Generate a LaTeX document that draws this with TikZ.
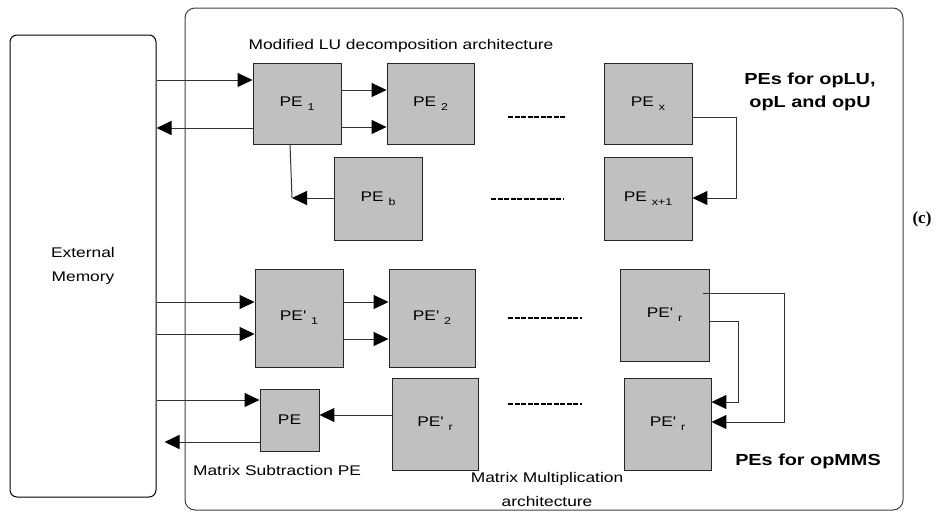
\documentclass[tikz,border=0pt]{standalone}
\usepackage{fontspec}
\setmainfont{Liberation Sans}
\newfontfamily\timesfont{Liberation Serif}
\usetikzlibrary{arrows.meta}
\definecolor{pegray}{RGB}{192,192,192}
\definecolor{linegray}{RGB}{50,50,50}
\newcommand{\wide}[1]{\scalebox{1.24}[1]{#1}}
\newcommand{\lowix}[1]{\raisebox{-0.55ex}{\fontsize{10}{10}\selectfont #1}}
\newcommand{\pep}{PE\textquotesingle}
\begin{document}
\begin{tikzpicture}[x=1pt,y=-1pt,
  pe/.style={draw=black!85,fill=pegray,line width=0.9pt,inner sep=0pt,font=\fontsize{14}{16}\selectfont},
  arr/.style={draw=linegray,line width=1pt,-{Triangle[length=15pt,width=14pt,color=black]}},
  wire/.style={draw=linegray,line width=1pt},
  gap/.style={line width=1.8pt,dash pattern=on 5pt off 1.5pt},
  lbl/.style={font=\fontsize{14}{24}\selectfont,align=center,inner sep=0pt},
  head/.style={font=\fontsize{16}{23}\selectfont\bfseries,align=center,inner sep=0pt}]
\path[use as bounding box] (0,0) rectangle (943,512);
% frames
\draw[black!75,line width=1pt,rounded corners=10] (185,8) rectangle (903,510);
\node[draw,line width=1pt,rounded corners=7,minimum width=146,minimum height=462,lbl] (mem) at (83,266) {\wide{External}\\\wide{Memory}};
% LU part
\node[lbl] (lutitle) at (401,46) {\wide{Modified LU decomposition architecture}};
\node[pe,minimum width=88,minimum height=81] (pe1) at (297,103.5) {\wide{PE\ \lowix{1}}};
\node[pe,minimum width=87,minimum height=81] (pe2) at (430.5,103.5) {\wide{PE\ \lowix{2}}};
\node[pe,minimum width=88,minimum height=83] (peb) at (378,198.5) {\wide{PE\ \lowix{b}}};
\node[pe,minimum width=88,minimum height=81] (pex) at (648,103.5) {\wide{PE\ \lowix{x}}};
\node[pe,minimum width=88,minimum height=83] (pex1) at (648,198.5) {\wide{PE\ \lowix{x+1}}};
\node[head] (luhead) at (810,91.5) {\wide{PEs for opLU,}\\\wide{opL and opU}};
\node[font=\timesfont\bfseries\fontsize{17}{18}\selectfont,inner sep=0pt] (tag) at (922,219) {(c)};
\coordinate (bend) at (292,198);
\draw[arr] (mem.east |- 0,80) -- (pe1.west |- 0,80);
\draw[arr] (pe1.west |- 0,128) -- (mem.east |- 0,128);
\draw[arr] (pe1.east |- 0,90) -- (pe2.west |- 0,90);
\draw[arr] (pe1.east |- 0,127) -- (pe2.west |- 0,127);
\draw[wire] (pe1.south -| 290,0) -- (bend);
\draw[arr] (peb.west |- bend) -- (bend);
\draw[arr] (pex.east |- 0,117) -- (736,117) -- (736,198) -- (pex1.east |- 0,198);
\draw[gap] (508,117) -- (566,117);
\draw[gap] (491,199) -- (563,199);
% MMS part
\node[pe,minimum width=88,minimum height=98] (pp1) at (299,318) {\wide{\pep\ \lowix{1}}};
\node[pe,minimum width=86,minimum height=98] (pp2) at (432,318) {\wide{\pep\ \lowix{2}}};
\node[pe,minimum width=59,minimum height=62] (sub) at (289.5,420) {\wide{PE}};
\node[pe,minimum width=86,minimum height=92] (ppa) at (435,424) {\wide{\pep\ \lowix{r}}};
\node[pe,minimum width=89,minimum height=92] (ppb) at (664.5,315) {\wide{\pep\ \lowix{r}}};
\node[pe,minimum width=87,minimum height=92] (ppc) at (667.5,424) {\wide{\pep\ \lowix{r}}};
\node[lbl] (subtitle) at (277,470) {\wide{Matrix Subtraction PE}};
\node[lbl] (mmtitle) at (547,489.5) {\wide{Matrix Multiplication}\\\wide{architecture}};
\node[head] (mmhead) at (808,461) {\wide{PEs for opMMS}};
\draw[arr] (mem.east |- 0,302) -- (pp1.west |- 0,302);
\draw[arr] (mem.east |- 0,334) -- (pp1.west |- 0,334);
\draw[arr] (pp1.east |- 0,302) -- (pp2.west |- 0,302);
\draw[arr] (pp1.east |- 0,339) -- (pp2.west |- 0,339);
\draw[arr] (mem.east |- 0,400) -- (sub.west |- 0,400);
\draw[arr] (sub.west |- 0,442) -- ([xshift=8pt]mem.east |- 0,442);
\draw[arr] (ppa.west |- 0,415) -- (sub.east |- 0,415);
\draw[arr] ([xshift=-6pt]ppb.east |- 0,293) -- (784,293) -- (784,422) -- (ppc.east |- 0,422);
\draw[arr] (ppb.east |- 0,321) -- (738,321) -- (738,402) -- (ppc.east |- 0,402);
\draw[gap] (508,318) -- (582,318);
\draw[gap] (508,404) -- (582,404);
\end{tikzpicture}
\end{document}
